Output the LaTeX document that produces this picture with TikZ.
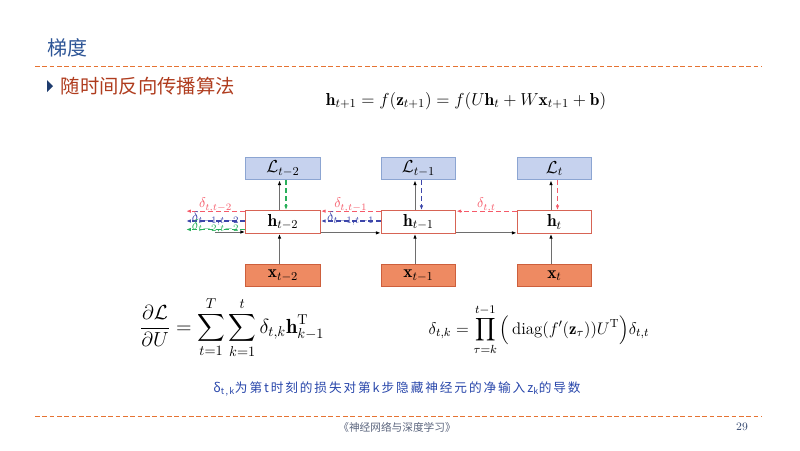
\RequirePackage{fix-cm}
\documentclass[tikz,border=0pt]{standalone}
\usepackage{amsmath}
\usepackage{fontspec}
\newfontfamily\cjk{Noto Sans CJK SC}
\newfontfamily\capfont[LetterSpace=15]{Noto Sans CJK SC}
\usetikzlibrary{arrows.meta}
\usetikzlibrary{calc}
\definecolor{titleblue}{RGB}{45,85,150}
\definecolor{bulletblue}{RGB}{30,60,110}
\definecolor{bullettext}{RGB}{175,60,30}
\definecolor{seporange}{RGB}{230,115,50}
\definecolor{lossfill}{RGB}{198,210,238}
\definecolor{lossline}{RGB}{140,165,210}
\definecolor{infill}{RGB}{238,138,98}
\definecolor{inline}{RGB}{205,95,60}
\definecolor{hidline}{RGB}{215,100,85}
\definecolor{fwdgray}{RGB}{110,110,110}
\definecolor{dred}{RGB}{245,90,105}
\definecolor{dblue}{RGB}{60,70,170}
\definecolor{dgreen}{RGB}{40,175,90}
\definecolor{capblue}{RGB}{40,70,170}
\definecolor{footgray}{RGB}{90,100,125}
\definecolor{pagecol}{RGB}{50,70,110}

\begin{document}
\begin{tikzpicture}[x=0.75pt,y=-0.75pt,
  box/.style={minimum width=56pt,minimum height=17pt,inner sep=0pt,line width=0.8pt,font=\fontsize{13}{15}\selectfont},
  lossbox/.style={box,draw=lossline,fill=lossfill},
  hidbox/.style={box,draw=hidline,fill=white},
  inbox/.style={box,draw=inline,fill=infill},
  fwd/.style={-{Latex[length=3.5pt,width=2.6pt,color=black]},draw=fwdgray,line width=0.7pt},
  bwd/.style={-{Latex[length=3.5pt,width=2.6pt]},dash pattern=on 3.5pt off 2.5pt,line width=0.8pt},
  dlab/.style={font=\fontsize{10.5}{12}\selectfont,inner sep=0.5pt},
  sepline/.style={draw=seporange,line width=0.75pt,dash pattern=on 3.5pt off 2pt}]
\useasboundingbox (0,0) rectangle (800,450);

%header
\node[anchor=west,font=\cjk\fontsize{15}{18}\selectfont,text=titleblue] (title) at (43,48) {梯度};
\draw[sepline] (35,66) -- (762,66);
\fill[bulletblue] (47,80) -- (53,86) -- (47,92) -- cycle;
\node[anchor=west,font=\cjk\fontsize{14.5}{17}\selectfont,text=bullettext] (topic) at (56,86) {随时间反向传播算法};
\node[anchor=base,inner sep=0pt,font=\fontsize{13}{16}\selectfont] (eqh) at (466,105)
  {$\mathbf{h}_{t+1}=f(\mathbf{z}_{t+1})=f(U\mathbf{h}_t+W\mathbf{x}_{t+1}+\mathbf{b})$};

%boxes
\foreach \k/\s/\cx in {2/{t-2}/283,1/{t-1}/418.5,0/t/554.5}{
  \node[lossbox] (L\k) at (\cx,168.5) {$\mathcal{L}_{\s}$};
  \node[hidbox] (h\k) at (\cx,222) {$\mathbf{h}_{\s}$};
  \node[inbox] (x\k) at (\cx,275.5) {$\mathbf{x}_{\s}$};
}

%vertical arrows
\foreach \k/\c in {2/dgreen,1/dblue,0/dred}{
  \draw[fwd] ($(x\k.north)+(-3.5,0)$) -- ($(h\k.south)+(-3.5,0)$);
  \draw[fwd] ($(h\k.north)+(-3.5,0)$) -- ($(L\k.south)+(-3.5,0)$);
  \draw[bwd,\c] ($(L\k.south)+(3,0)$) -- ($(h\k.north)+(3,0)$);
}

%forward in time
\coordinate (hin) at (215,232);
\draw[fwd] (hin) -- (hin -| h2.west);
\draw[fwd] ($(h2.south east)+(0,-1)$) -- ($(h1.south west)+(0,-1)$);
\draw[fwd] ($(h1.south east)+(0,-1)$) -- ($(h0.south west)+(0,-1)$);

%backward in time
\draw[bwd,dred] ($(h0.north west)+(0,1)$) -- node[dlab,above=-1.5pt]{$\delta_{t,t}$} ($(h1.north east)+(0,1)$);
\draw[bwd,dred] ($(h1.north west)+(0,1)$) -- node[dlab,above=-1.5pt]{$\delta_{t,t-1}$} ($(h2.north east)+(0,1)$);
\draw[bwd,dblue] ($(h1.west)+(0,-1)$) -- node[dlab,above=-4pt]{$\delta_{t-1,t-1}$} ($(h2.east)+(0,-1)$);

\coordinate (outR) at ($(h2.north west)+(-59,1)$);
\coordinate (outB) at ($(h2.west)+(-59,-1)$);
\coordinate (outG) at ($(h2.west)+(-59,7.5)$);
\draw[bwd,dred] ($(h2.north west)+(0,1)$) -- node[dlab,above=-1.5pt]{$\delta_{t,t-2}$} (outR);
\draw[bwd,dblue] ($(h2.west)+(0,-1)$) -- node[dlab,above=-4pt]{$\delta_{t-1,t-2}$} (outB);
\draw[bwd,dgreen] ($(h2.west)+(0,7.5)$) -- node[dlab,above=-4pt]{$\delta_{t-2,t-2}$} (outG);

%gradient formulas
\node[anchor=base,inner sep=0pt,font=\fontsize{15.3}{18}\selectfont] (eqU) at (232,333)
  {$\displaystyle\frac{\partial\mathcal{L}}{\partial U}=\sum_{t=1}^{T}\sum_{k=1}^{t}\delta_{t,k}\mathbf{h}_{k-1}^{\mathrm{T}}$};
\node[anchor=base,inner sep=0pt,font=\fontsize{12.6}{15}\selectfont] (eqd) at (539,334)
  {$\displaystyle\delta_{t,k}=\prod_{\tau=k}^{t-1}\Big(\,\mathrm{diag}(f'(\mathbf{z}_\tau))U^{\mathrm{T}}\Big)\delta_{t,t}$};
\node[font=\capfont\fontsize{9.5}{12}\selectfont,text=capblue] (cap) at (397,389)
  {δ\textsubscript{t,k}为第t时刻的损失对第k步隐藏神经元的净输入z\textsubscript{k}的导数};

%footer
\draw[sepline] (35,416) -- (762,416);
\node[font=\cjk\fontsize{8}{10}\selectfont,text=footgray] (book) at (397,427) {《神经网络与深度学习》};
\node[font=\fontsize{8.5}{10}\selectfont,text=pagecol] (pg) at (742,427) {29};
\end{tikzpicture}
\end{document}
